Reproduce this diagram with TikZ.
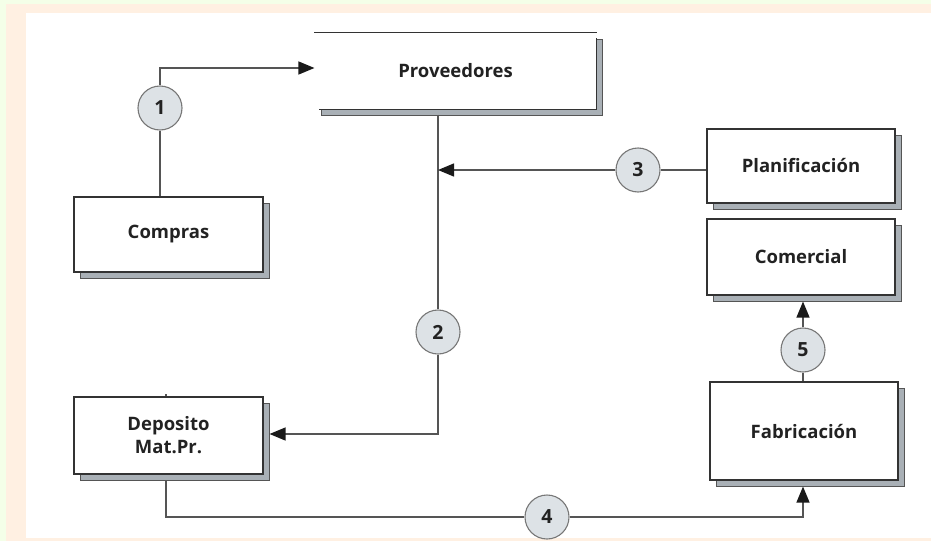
\documentclass[tikz,border=0pt]{standalone}
\usepackage{fontspec}
\setmainfont{Open Sans}
\usetikzlibrary{arrows.meta,shadows,calc}
\definecolor{bggreen}{HTML}{F4FFE8}
\definecolor{bgpeach}{HTML}{FFF0E2}
\definecolor{boxline}{HTML}{333333}
\definecolor{connline}{HTML}{555555}
\definecolor{tipcol}{HTML}{1A1A1A}
\definecolor{shadowgray}{HTML}{A9B0B6}
\definecolor{shadowline}{HTML}{555555}
\definecolor{circfill}{HTML}{DDE2E6}
\definecolor{circline}{HTML}{777777}
\definecolor{txt}{HTML}{222222}
\begin{document}
\begin{tikzpicture}[x=1pt,y=-1pt,
  boxnode/.style={rectangle, draw=boxline, line width=1.1pt, fill=white,
    text=txt, font=\bfseries\fontsize{18.5}{23}\selectfont, align=center, inner sep=0pt,
    drop shadow={shadow xshift=6pt, shadow yshift=-6pt, fill=shadowgray,
      draw=shadowline, line width=1pt, opacity=1}},
  numnode/.style={circle, draw=circline, line width=1.1pt, fill=circfill,
    minimum size=44pt, inner sep=0pt, text=txt,
    font=\bfseries\fontsize{19.5}{22}\selectfont},
  conn/.style={draw=connline, line width=1.3pt},
  arr/.style={-{Triangle[length=16pt,width=13pt,color=tipcol]}}
]
\fill[bggreen] (0,0) rectangle (931,541);
\fill[bgpeach] (6,4) rectangle (931,541);
\fill[white] (25.5,13) rectangle (931,538);
\useasboundingbox (0,0) rectangle (931,541);

% boxes
\node[boxnode, draw=none, minimum width=281pt, minimum height=76pt] (prov) at (455.5,71) {Proveedores};
\draw[boxline, line width=1.1pt] (prov.north west) -- (prov.north east);
\draw[boxline, line width=1.1pt] ($(prov.north east)+(0,6)$) -- (prov.south east) -- ($(prov.south west)+(5,0)$);

\node[boxnode, minimum width=189pt, minimum height=75pt] (comp) at (168.5,234.5) {Compras};
\node[boxnode, minimum width=189pt, minimum height=77pt] (dep) at (168.5,435.5) {Deposito\\Mat.Pr.};
\node[boxnode, minimum width=188pt, minimum height=74pt] (plan) at (801,166) {Planificación};
\node[boxnode, minimum width=188pt, minimum height=76pt] (com) at (801,257) {Comercial};
\node[boxnode, minimum width=188pt, minimum height=98pt] (fab) at (804,431) {Fabricación};

% numbered circles
\node[numnode] (c1) at (160,108) {1};
\node[numnode] (c2) at (438,332) {2};
\node[numnode] (c3) at (638,170) {3};
\node[numnode] (c4) at (547,517) {4};
\node[numnode] (c5) at (803,350) {5};

% connectors
\draw[conn] (comp.north -| c1) -- (c1);
\draw[conn, arr] (c1) |- ($(prov.west)+(0,-3)$);

\draw[conn] ($(prov.south -| c2)+(0,5)$) -- (c2);
\draw[conn, arr] (c2) |- ($(dep.east)+(6,-1.5)$);
\draw[conn] (plan.west |- c3) -- (c3);
\draw[conn, arr] (c3) -- (c3 -| c2);

\draw[conn] ($(dep.south)+(-2.5,6)$) |- (c4);
\draw[conn, arr] (c4) -| ($(fab.south)+(-1,6)$);
\draw[conn] ($(dep.north)+(-2.5,-2)$) -- ($(dep.north)+(-2.5,0)$);

\draw[conn] (c5 |- fab.north) -- (c5);
\draw[conn, arr] (c5) -- ($(c5 |- com.south)+(0,6)$);
\end{tikzpicture}
\end{document}
